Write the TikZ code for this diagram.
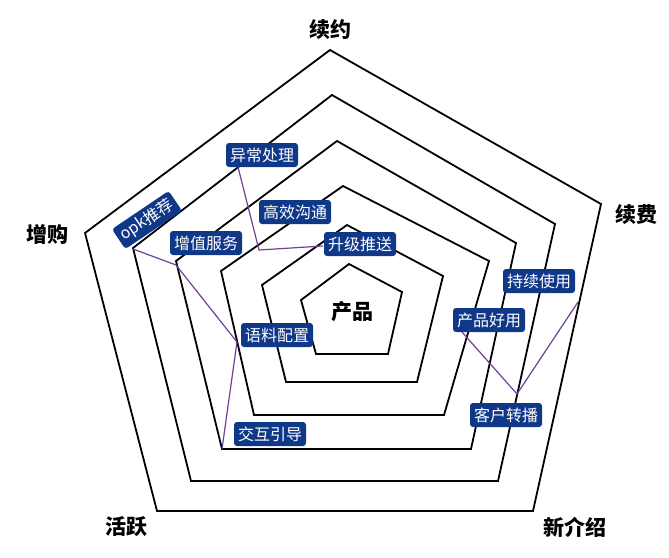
\documentclass[tikz,border=0pt]{standalone}
\usepackage{fontspec}
\newfontfamily\cjk{Noto Sans CJK SC}
\definecolor{boxblue}{RGB}{16,56,136}
\definecolor{linkpurple}{RGB}{112,64,150}
\tikzset{
  ring/.style={draw=black, line width=1.8pt, line join=miter},
  link/.style={draw=linkpurple, line width=1.2pt},
  tag/.style={fill=boxblue, text=white, rounded corners=3pt, minimum height=24pt,
              inner xsep=4pt, inner ysep=2pt, font=\cjk\fontsize{16}{18}\selectfont},
  axis/.style={text=black, font=\cjk\bfseries\fontsize{21}{23}\selectfont}
}
\begin{document}
\begin{tikzpicture}[x=1pt,y=-1pt]
\useasboundingbox (0,0) rectangle (669,557);
% pentagons
\draw[ring] (330,50) -- (601,204) -- (533,511) -- (157,511) -- (85,233) -- cycle;
\draw[ring] (332,95) -- (555,224) -- (498,481) -- (191,481) -- (133,248) -- cycle;
\draw[ring] (337,141) -- (516,243) -- (471,449) -- (222,449) -- (176,261) -- cycle;
\draw[ring] (343,186) -- (489,261) -- (444,415) -- (254,415) -- (221,271) -- cycle;
\draw[ring] (347,225) -- (443,276) -- (417,382) -- (286,382) -- (262,285) -- cycle;
\draw[ring] (349,264) -- (402,292) -- (388,354) -- (316,354) -- (301,300) -- cycle;

% link points
\coordinate (a1) at (238,167);
\coordinate (a2) at (259,250);
\coordinate (a3) at (323,246);
\coordinate (b1) at (133,249);
\coordinate (b2) at (176,265);
\coordinate (b3) at (237,342);
\coordinate (b4) at (222,449);
\coordinate (c1) at (462,332);
\coordinate (c2) at (517,394);
\coordinate (c3) at (578,302);

\draw[link] (a1) -- (a2) -- (a3);
\draw[link] (b1) -- (b2) -- (b3) -- (b4);
\draw[link] (c1) -- (c2) -- (c3);

% tags
\node[tag] (yc) at (262,155) {异常处理};
\node[tag, rotate=34] (opk) at (147,220) {opk推荐};
\node[tag] (gx) at (295,212) {高效沟通};
\node[tag] (zz) at (206,243) {增值服务};
\node[tag] (sj) at (360,244) {升级推送};
\node[tag] (yl) at (277,335) {语料配置};
\node[tag] (cp) at (489,320) {产品好用};
\node[tag] (cx) at (539,281) {持续使用};
\node[tag] (kh) at (506,415) {客户转播};
\node[tag] (jh) at (270,434) {交互引导};

% axis labels
\node[axis] (xy) at (330,30) {续约};
\node[axis] (xf) at (636,215) {续费};
\node[axis] (zg) at (47,234) {增购};
\node[axis] (hy) at (126,527) {活跃};
\node[axis] (xj) at (575,527) {新介绍};
\node[axis] (cpm) at (352,312) {产品};
\end{tikzpicture}
\end{document}
